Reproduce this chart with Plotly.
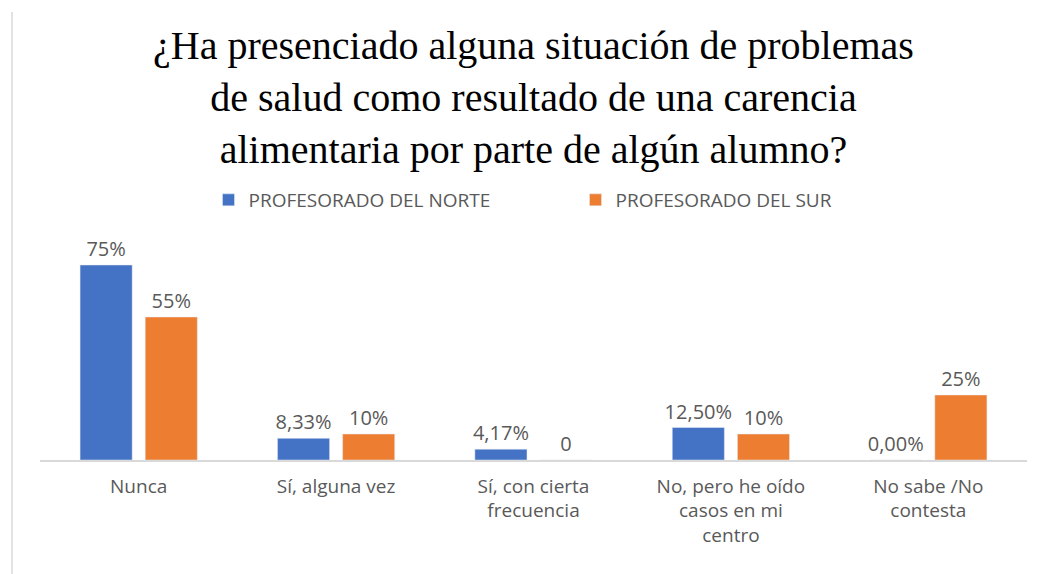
import plotly.graph_objects as go

categories = ["Nunca", "Sí, alguna vez", "Sí, con cierta<br>frecuencia",
              "No, pero he oído<br>casos en mi<br>centro", "No sabe /No<br>contesta"]
norte = [75, 8.33, 4.17, 12.5, 0.0]
sur = [55, 10, 0, 10, 25]
norte_labels = ["75%", "8,33%", "4,17%", "12,50%", "0,00%"]
sur_labels = ["55%", "10%", "0", "10%", "25%"]
series_names = ["PROFESORADO DEL NORTE", "PROFESORADO DEL SUR"]
title_text = ("¿Ha presenciado alguna situación de problemas<br>"
              "de salud como resultado de una carencia<br>"
              "alimentaria por parte de algún alumno?")

BLUE = "#4472C4"
ORANGE = "#ED7D31"
GREY = "#595959"
FONT = "Open Sans"

fig = go.Figure()
fig.add_trace(go.Bar(x=categories, y=norte, name=series_names[0], marker_color=BLUE,
                     text=norte_labels, textposition="outside", cliponaxis=False,
                     constraintext="none",
                     textfont=dict(family=FONT, size=20, color=GREY)))
fig.add_trace(go.Bar(x=categories, y=sur, name=series_names[1], marker_color=ORANGE,
                     text=sur_labels, textposition="outside", cliponaxis=False,
                     constraintext="none",
                     textfont=dict(family=FONT, size=20, color=GREY)))

fig.update_layout(
    width=1049, height=574,
    margin=dict(l=32, r=30, t=244, b=122, autoexpand=False),
    paper_bgcolor="white", plot_bgcolor="white",
    barmode="group", bargap=0.34, bargroupgap=0.2,
    title=dict(text=title_text, x=0.5, xanchor="center", xref="paper",
               y=1 - 51 / 574, yanchor="top", yref="container",
               font=dict(family="Liberation Serif", size=40, color="#000000")),
    legend=dict(orientation="h", x=0.5 + 42 / 987, xanchor="center", xref="paper",
                y=1 - 192 / 574, yanchor="middle", yref="container",
                font=dict(family=FONT, size=19, color=GREY), traceorder="normal",
                entrywidth=322, entrywidthmode="pixels", bgcolor="rgba(0,0,0,0)"),
    showlegend=True,
    xaxis=dict(showline=True, linecolor="#D9D9D9", linewidth=1.5, ticks="",
               tickfont=dict(family=FONT, size=19, color=GREY), showgrid=False,
               automargin=False, ticklabelstandoff=8),
    yaxis=dict(range=[0, 80], visible=False, showgrid=False, zeroline=False,
               automargin=False),
    shapes=[dict(type="line", xref="paper", yref="paper",
                 x0=(12 - 40) / 987, x1=(12 - 40) / 987,
                 y0=(460 - 574) / 208, y1=(460 - 12) / 208,
                 line=dict(color="#D9D9D9", width=1.5))],
)

fig.write_html("out.html")
